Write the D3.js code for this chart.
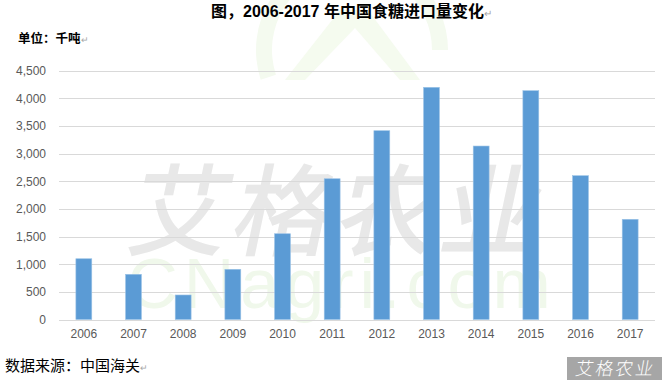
<!DOCTYPE html>
<html>
<head>
<meta charset="utf-8">
<script src="https://cdn.jsdelivr.net/npm/d3@7"></script>
<style>
  html, body { margin: 0; padding: 0; background: #fff; }
  svg { display: block; }
</style>
</head>
<body>
<svg id="chart" width="665" height="380"></svg>
<script>
// China sugar imports, thousand tonnes
const years = ["2006","2007","2008","2009","2010","2011","2012","2013","2014","2015","2016","2017"];
const imports = [1098, 817, 443, 907, 1550, 2544, 3412, 4196, 3135, 4135, 2599, 1811];
const yTicks = [0, 500, 1000, 1500, 2000, 2500, 3000, 3500, 4000, 4500];

const titleText = "图，2006-2017 年中国食糖进口量变化";
const unitText = "单位：千吨";
const sourceText = "数据来源：中国海关";
const brandText = "艾格农业";
const siteText = "CNagri.com";

const W = 665, H = 380;
const margin = { left: 59, right: 10, top: 70.5, bottom: 60.5 };
const svg = d3.select("#chart");
const cjk = "'Liberation Sans', Arial, 'Noto Sans CJK SC', sans-serif";

// ---- faint background watermark ----
const wm = svg.append("g").attr("class", "watermark");
wm.append("path")
  .attr("d", d3.arc()({ innerRadius: 80, outerRadius: 96, startAngle: -Math.PI * 0.6, endAngle: Math.PI * 0.5 }))
  .attr("transform", "translate(352,50)")
  .attr("fill", "#f4faef");
wm.append("path")
  .attr("d", "M285,80 L340,10 L368,10 L420,80 L400,80 L355,28 L305,80 Z")
  .attr("fill", "#f5fbef");
wm.append("text")
  .attr("x", 335).attr("y", 248)
  .attr("text-anchor", "middle")
  .attr("font-family", "'Noto Sans CJK SC', sans-serif")
  .attr("font-size", 100).attr("font-weight", 500)
  .attr("letter-spacing", 4)
  .attr("fill", "#e8e8e8")
  .attr("transform", "skewX(-12) translate(50,0)")
  .text(brandText);
wm.append("text")
  .attr("x", 342).attr("y", 308)
  .attr("text-anchor", "middle")
  .attr("font-family", "'Liberation Sans', Arial, sans-serif")
  .attr("font-size", 70)
  .attr("letter-spacing", 6)
  .attr("fill", "#f0f8eb")
  .text(siteText);

// ---- scales ----
const x = d3.scaleBand()
  .domain(years)
  .range([margin.left, W - margin.right])
  .paddingInner(0.68)
  .paddingOuter(0.34);

const y = d3.scaleLinear()
  .domain([0, 4500])
  .range([H - margin.bottom, margin.top]);

// ---- gridlines ----
svg.append("g")
  .selectAll("line")
  .data(yTicks)
  .join("line")
  .attr("x1", margin.left).attr("x2", W - margin.right)
  .attr("y1", d => Math.round(y(d)) + 0.5).attr("y2", d => Math.round(y(d)) + 0.5)
  .attr("stroke", "#d9d9d9").attr("stroke-width", 1);

// ---- y axis labels ----
const yAxis = svg.append("g")
  .attr("transform", `translate(46,0)`)
  .call(d3.axisLeft(y).tickValues(yTicks).tickFormat(d3.format(",")).tickSize(0).tickPadding(0));
yAxis.select(".domain").remove();
yAxis.selectAll("text")
  .attr("font-family", "'Liberation Sans', Arial, sans-serif")
  .attr("font-size", 12)
  .attr("fill", "#595959");

// ---- bars ----
svg.append("g")
  .selectAll("rect")
  .data(years.map((yr, i) => ({ yr, v: imports[i] })))
  .join("rect")
  .attr("x", d => x(d.yr))
  .attr("width", x.bandwidth())
  .attr("y", d => y(d.v))
  .attr("height", d => y(0) - y(d.v))
  .attr("fill", "#5b9bd5")
  .attr("stroke", "#9cc3e6").attr("stroke-width", 0.6);

// ---- x axis labels ----
const xAxis = svg.append("g")
  .attr("transform", `translate(0,${H - margin.bottom})`)
  .call(d3.axisBottom(x).tickSize(0).tickPadding(10));
xAxis.select(".domain").remove();
xAxis.selectAll("text")
  .attr("font-family", "'Liberation Sans', Arial, sans-serif")
  .attr("font-size", 12)
  .attr("fill", "#595959");

// ---- title & notes ----
const mark = (sel, size) => sel.append("tspan").attr("fill", "#a6a6a6").attr("font-weight", "normal").attr("font-size", size).text("↵");

const title = svg.append("text")
  .attr("x", 211).attr("y", 17)
  .attr("font-family", cjk)
  .attr("font-size", 16).attr("font-weight", "bold")
  .attr("fill", "#000");
title.append("tspan").text(titleText);
mark(title, 10);

const unit = svg.append("text")
  .attr("x", 18).attr("y", 43)
  .attr("font-family", "'Noto Sans CJK SC', sans-serif")
  .attr("font-size", 12.5).attr("font-weight", "bold")
  .attr("fill", "#000");
unit.append("tspan").text(unitText);
mark(unit, 9);

const src = svg.append("text")
  .attr("x", 5).attr("y", 371)
  .attr("font-family", "'Noto Sans CJK SC', sans-serif")
  .attr("font-size", 15)
  .attr("fill", "#000");
src.append("tspan").text(sourceText);
mark(src, 9);

// ---- brand badge ----
svg.append("rect")
  .attr("x", 567).attr("y", 357).attr("width", 95).attr("height", 23)
  .attr("fill", "#a6a6a6");
svg.append("text")
  .attr("x", 614.5).attr("y", 375)
  .attr("text-anchor", "middle")
  .attr("font-family", "'Noto Sans CJK SC', sans-serif")
  .attr("font-size", 18).attr("font-weight", 300)
  .attr("letter-spacing", 2)
  .attr("fill", "#fff")
  .attr("transform", "skewX(-10) translate(66,0)")
  .text(brandText);
</script>
</body>
</html>
